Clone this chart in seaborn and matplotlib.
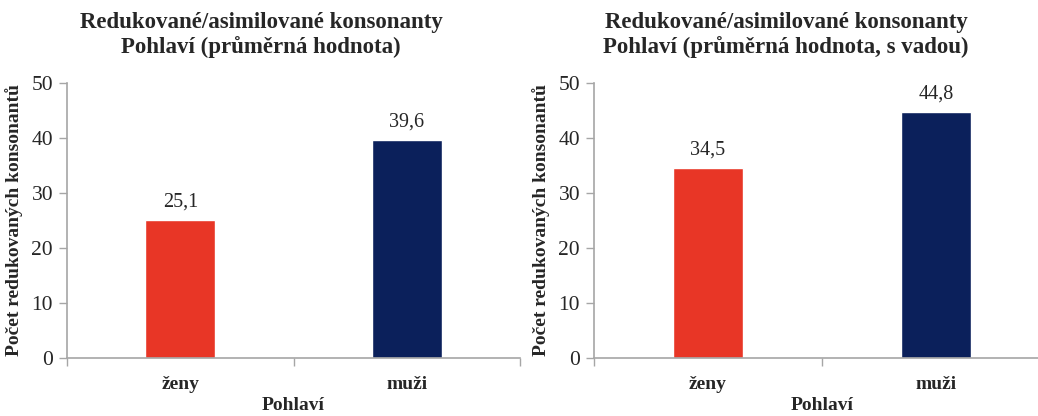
import matplotlib
matplotlib.use("Agg")
import matplotlib.pyplot as plt
import seaborn as sns
import pandas as pd

# data
categories = ["ženy", "muži"]
values_avg = [25.1, 39.6]
values_vada = [34.5, 44.8]
titles = ["Redukované/asimilované konsonanty\nPohlaví (průměrná hodnota)",
          "Redukované/asimilované konsonanty\nPohlaví (průměrná hodnota, s vadou)"]
yticks = [0, 10, 20, 30, 40, 50]

COLORS = {"ženy": "#E83626", "muži": "#0B205B"}
GRAY = "#A6A6A6"

sns.set_style("white")
plt.rcParams["font.family"] = ["Liberation Serif", "DejaVu Serif"]

W, H = 1038, 416
fig = plt.figure(figsize=(W / 100, H / 100), dpi=100)


def px_axes(x0, x1, ytop, ybot):
    return fig.add_axes([x0 / W, (H - ybot) / H, (x1 - x0) / W, (ybot - ytop) / H])


def draw_panel(ax, values, title, title_x):
    df = pd.DataFrame({"Pohlaví": categories, "value": values})
    sns.barplot(data=df, x="Pohlaví", y="value", hue="Pohlaví", palette=COLORS,
                width=0.31, legend=False, ax=ax, saturation=1)
    ax.set_xlim(-0.5, 1.5)
    ax.set_ylim(0, 50)
    ax.set_yticks(yticks)
    ax.tick_params(axis="y", direction="out", length=6, width=1, color=GRAY,
                   labelsize=15.5, pad=4, left=True)
    ax.set_xticks([-0.5, 0.5, 1.5], minor=True)
    ax.tick_params(axis="x", which="minor", direction="out", length=6, width=1,
                   color=GRAY, bottom=True)
    ax.tick_params(axis="x", which="major", length=0, labelsize=14, pad=13)
    for lab in ax.get_xticklabels():
        lab.set_fontweight("bold")
    for side in ["top", "right"]:
        ax.spines[side].set_visible(False)
    for side in ["left", "bottom"]:
        ax.spines[side].set_color(GRAY)
        ax.spines[side].set_linewidth(1.2)
    ax.set_xlabel("Pohlaví", fontsize=14, fontweight="bold", labelpad=3)
    ax.set_ylabel("Počet redukovaných konsonantů", fontsize=14, fontweight="bold",
                  labelpad=6)
    for i, v in enumerate(values):
        ax.annotate(f"{v:.1f}".replace(".", ","), (i, v), xytext=(0, 6),
                    textcoords="offset points", ha="center", va="bottom", fontsize=14.5)
    fig.text(title_x / W, 1 - 35 / H, title, ha="center", va="center",
             fontsize=16.5, fontweight="bold", linespacing=1.2)


ax1 = px_axes(67, 520, 83, 358)
draw_panel(ax1, values_avg, titles[0], 261)
ax2 = px_axes(594, 1050, 83, 358)
draw_panel(ax2, values_vada, titles[1], 786)

fig.savefig("out.png", dpi=100)
